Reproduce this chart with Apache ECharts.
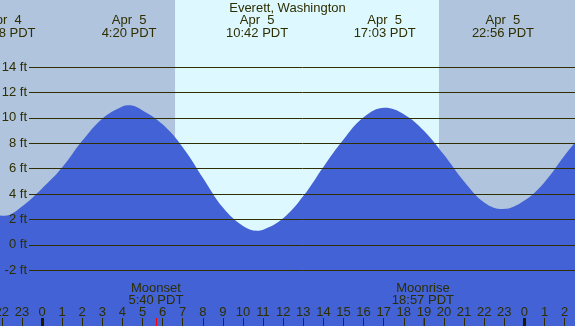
<!DOCTYPE html>
<html>
<head>
<meta charset="utf-8">
<script src="https://cdn.jsdelivr.net/npm/echarts@6/dist/echarts.min.js"></script>
<style>html,body{margin:0;padding:0;background:#b0c4de;}#c{width:575px;height:326px;}</style>
</head>
<body>
<div id="c"></div>
<script>
// Tide heights (ft); time in hours from midnight Apr 5
const tideHours = [-3, -2.5, -1.87, -1, 0, 1, 2, 3, 4, 4.33, 5, 6, 7, 8, 9, 10, 10.7, 11, 12, 13, 14, 15, 16, 17.05, 18, 19, 20, 21, 22, 22.93, 24, 25, 26, 27];
const tideFeet  = [2.85, 2.45, 2.3, 3.03, 4.45, 6.1, 8.2, 9.95, 10.9, 11.0, 10.6, 9.5, 7.7, 5.3, 2.95, 1.5, 1.13, 1.2, 2.1, 3.85, 6.15, 8.3, 10.05, 10.8, 10.3, 9.0, 7.1, 5.0, 3.35, 2.83, 3.5, 4.95, 7.05, 9.0];

// High / low events
const eventHours = [-1.867, 4.333, 10.7, 17.05, 22.933];
const eventDates = ['Apr  4', 'Apr  5', 'Apr  5', 'Apr  5', 'Apr  5'];
const eventTimes = ['22:08 PDT', '4:20 PDT', '10:42 PDT', '17:03 PDT', '22:56 PDT'];

// Moon events
const moonHours = [5.667, 18.95];
const moonNames = ['Moonset', 'Moonrise'];
const moonTimes = ['5:40 PDT', '18:57 PDT'];

// Daylight
const sunrise = 6.62;
const sunset = 19.75;

// Hour tick positions and labels
const hourTicks = [-2, -1, 0, 1, 2, 3, 4, 5, 6, 7, 8, 9, 10, 11, 12, 13, 14, 15, 16, 17, 18, 19, 20, 21, 22, 23, 24, 25, 26];
const hourLabels = ['22', '23', '0', '1', '2', '3', '4', '5', '6', '7', '8', '9', '10', '11', '12', '13', '14', '15', '16', '17', '18', '19', '20', '21', '22', '23', '0', '1', '2'];
const midnights = [0, 24];

// Y-axis levels
const levelMin = -2, levelMax = 14, levelStep = 2;

const TXT = '#2e2e00';
const NIGHT = '#b0c4de';
const DAY = '#ddf8ff';
const WATER = '#4262d6';
const FONT = '"Liberation Sans", Arial, sans-serif';

function lookup(arr, v, out) {
  for (let i = 0; i < arr.length; i++) if (Math.abs(arr[i] - v) < 1e-6) return out(i);
  return '';
}

const XMIN = -3, XMAX = 27;
const baseX = {type: 'value', min: XMIN, max: XMAX, gridIndex: 0, z: 10,
  axisLine: {show: false, onZero: false}, splitLine: {show: false}};

const chart = echarts.init(document.getElementById('c'), null, {renderer: 'canvas'});
chart.setOption({
  backgroundColor: NIGHT,
  animation: false,
  title: {
    text: 'Everett, Washington', left: 'center', top: 0, padding: [2, 0, 0, 0],
    textStyle: {fontSize: 13, fontWeight: 'normal', color: TXT, fontFamily: FONT}
  },
  grid: [
    {left: -18.3, right: -9.7, top: 0, bottom: 0, containLabel: false, outerBoundsMode: 'none'},
    {left: 29, right: -9.7, top: 67, bottom: 55.7, containLabel: false, outerBoundsMode: 'none'}
  ],
  xAxis: [
    Object.assign({}, baseX, {
      position: 'bottom',
      axisTick: {show: true, inside: true, length: 8, customValues: hourTicks, lineStyle: {color: TXT, width: 1}},
      axisLabel: {show: true, inside: true, margin: 7.5, customValues: hourTicks, color: TXT, fontSize: 13, fontFamily: FONT,
        formatter: v => lookup(hourTicks, v, i => hourLabels[i])}
    }),
    Object.assign({}, baseX, {
      position: 'bottom',
      axisTick: {show: true, inside: true, length: 8, customValues: midnights, lineStyle: {color: '#1a1a00', width: 3}},
      axisLabel: {show: false}
    }),
    Object.assign({}, baseX, {
      position: 'bottom',
      axisTick: {show: true, inside: true, length: 8, customValues: moonHours, lineStyle: {color: '#ff0000', width: 1}},
      axisLabel: {show: true, inside: true, margin: 19.5, customValues: moonHours, color: TXT, fontSize: 13, fontFamily: FONT, lineHeight: 12,
        formatter: v => lookup(moonHours, v, i => moonNames[i] + '\n' + moonTimes[i])}
    }),
    Object.assign({}, baseX, {
      position: 'top',
      axisTick: {show: false},
      axisLabel: {show: true, inside: true, margin: 14, customValues: eventHours, color: TXT, fontSize: 13, fontFamily: FONT, lineHeight: 13,
        formatter: v => lookup(eventHours, v, i => eventDates[i] + '\n' + eventTimes[i])}
    }),
    {type: 'value', gridIndex: 1, min: XMIN, max: XMAX, show: false}
  ],
  yAxis: [
    {type: 'value', gridIndex: 0, min: -81 / 12.7, max: 245 / 12.7, show: false},
    {type: 'value', gridIndex: 1, min: levelMin, max: levelMax, interval: levelStep, z: 10,
      axisLine: {show: false}, axisTick: {show: false},
      splitLine: {show: true, lineStyle: {color: TXT, width: 1}},
      axisLabel: {margin: 2, color: TXT, fontSize: 13, fontFamily: FONT, formatter: '{value} ft'}}
  ],
  series: [
    {
      type: 'line', xAxisIndex: 0, yAxisIndex: 0, data: [], z: 1, silent: true,
      markArea: {silent: true, itemStyle: {color: DAY}, data: [[{xAxis: sunrise}, {xAxis: sunset}]]}
    },
    {
      type: 'line', xAxisIndex: 0, yAxisIndex: 0, z: 2, silent: true,
      data: tideHours.map((h, i) => [h, tideFeet[i]]),
      smooth: 0.4, showSymbol: false, symbol: 'none',
      lineStyle: {width: 0, color: WATER},
      areaStyle: {color: WATER, opacity: 1, origin: 'start'}
    }
  ]
});
</script>
</body>
</html>
